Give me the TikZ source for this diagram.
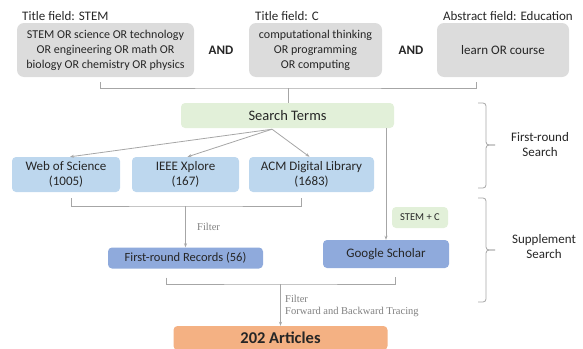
\documentclass[tikz,border=0pt]{standalone}
\usepackage{fontspec}
\setmainfont{Carlito}
\newfontfamily\serifgray{Liberation Serif}
\usetikzlibrary{arrows.meta,calc}
\definecolor{boxgray}{HTML}{DCDCDC}
\definecolor{boxgreen}{HTML}{E2F0D9}
\definecolor{boxlblue}{HTML}{BDD7EE}
\definecolor{boxblue}{HTML}{8FAADC}
\definecolor{boxorange}{HTML}{F4B183}
\definecolor{linegray}{HTML}{A6A6A6}
\definecolor{txt}{HTML}{262626}
\tikzset{
  gbox/.style={fill=boxgray, rounded corners=7pt, inner sep=0pt, align=center, text=txt, font=\fontsize{12}{15}\selectfont},
  cbox/.style={rounded corners=4pt, inner sep=0pt, align=center, text=txt},
  gl/.style={draw=linegray, line width=0.8pt},
  arr/.style={gl, -{Stealth[length=4pt,width=3pt]}},
  lbl/.style={text=txt, font=\fontsize{13}{15}\selectfont, inner sep=0pt},
  ftxt/.style={text=gray, font=\serifgray\fontsize{10.5}{12}\selectfont, inner sep=0pt, anchor=west},
}
\begin{document}
\begin{tikzpicture}[x=1pt,y=-1pt]
\useasboundingbox (0,0) rectangle (583,348);
\clip (0,0) rectangle (583,348);
% titles
\node[lbl, anchor=west] (t1) at (22,16) {Title field: STEM};
\node[lbl, anchor=west] (t2) at (255,16) {Title field: C};
\node[lbl, anchor=east] (t3) at (573,16) {Abstract field: Education};
% top boxes
\node[gbox, minimum width=177pt, minimum height=54pt] (box1) at (105.5,50)
  {STEM OR science OR technology\\OR engineering OR math OR\\biology OR chemistry OR physics};
\node[lbl, font=\bfseries\fontsize{13}{15}\selectfont] (and1) at (221,50) {AND};
\node[gbox, minimum width=133pt, minimum height=54pt] (box2) at (315.5,50)
  {computational thinking\\OR programming\\OR computing};
\node[lbl, font=\bfseries\fontsize{13}{15}\selectfont] (and2) at (411,50) {AND};
\node[gbox, minimum width=132pt, minimum height=54pt, font=\fontsize{13}{15}\selectfont] (box3) at (503,50)
  {learn OR course};
% search terms
\node[cbox, fill=boxgreen, minimum width=213pt, minimum height=25pt, font=\fontsize{14.5}{16}\selectfont] (search) at (287.5,115.5) {Search Terms};
% databases
\node[cbox, fill=boxlblue, minimum width=108pt, minimum height=35pt, font=\fontsize{13}{15}\selectfont] (wos) at (66,174.5) {Web of Science\\(1005)};
\node[cbox, fill=boxlblue, minimum width=107pt, minimum height=35pt, font=\fontsize{13}{15}\selectfont] (ieee) at (185.5,174.5) {IEEE Xplore\\(167)};
\node[cbox, fill=boxlblue, minimum width=125pt, minimum height=35pt, font=\fontsize{13}{15}\selectfont] (acm) at (311.5,174.5) {ACM Digital Library\\(1683)};
% records, google, stem+c
\node[cbox, fill=boxblue, minimum width=155pt, minimum height=21pt, font=\fontsize{12.5}{15}\selectfont] (rec) at (185.5,258) {First-round Records (56)};
\node[cbox, fill=boxblue, minimum width=126pt, minimum height=28pt, font=\fontsize{13}{15}\selectfont] (google) at (386,254) {Google Scholar};
\node[cbox, fill=boxgreen, minimum width=56pt, minimum height=21pt, font=\fontsize{10.5}{12}\selectfont] (stemc) at (420,217.5) {STEM + C};
% articles
\node[cbox, fill=boxorange, minimum width=214pt, minimum height=24pt, font=\bfseries\fontsize{16.5}{18}\selectfont] (art) at (280.5,338) {202 Articles};
% bracket 1
\coordinate (j1) at (288,88);
\draw[gl] ($(box1.south)+(-5.5,5)$) |- (j1) -| ($(box3.south)+(-27,5)$);
\draw[gl] (j1) -- (j1 |- search.north);
% search to dbs
\coordinate (s0) at ($(search.south)+(-15.5,1)$);
\draw[arr] (s0) -- ([xshift=4pt]wos.north);
\draw[arr] (s0) -- ([xshift=2pt]ieee.north);
\draw[arr] (s0) -- ([xshift=-2pt]acm.north);
\draw[arr] (search.south -| google.north) -- (google.north);
% bracket 2
\coordinate (j2) at (185.5,206);
\draw[gl] ($(wos.south)+(5,6)$) |- (j2) -| ($(acm.south)+(-10.5,6)$);
\draw[arr] (j2) -- (rec.north);
\node[ftxt] (f1) at (197,227) {Filter};
% bracket 3
\coordinate (j3) at (280.5,284);
\draw[gl] ($(rec.south)+(-19.5,9)$) |- (j3) -| ($(google.south)+(9.5,9)$);
\draw[arr] (j3) -- (art.north);
\node[ftxt] (f2) at (285,299) {Filter};
\node[ftxt] (f3) at (285,312) {Forward and Backward Tracing};
% braces
\draw[gl, rounded corners=3pt] (478,103) -- (486,103) -- (486,145) -- (495,145);
\draw[gl, rounded corners=3pt] (495,145) -- (486,145) -- (486,188) -- (478,188);
\node[lbl, align=center] (fr) at (540,145) {First-round\\Search};
\draw[gl, rounded corners=3pt] (478,198) -- (486,198) -- (486,250) -- (495,250);
\draw[gl, rounded corners=3pt] (495,250) -- (486,250) -- (486,302) -- (478,302);
\node[lbl, align=center] (ss) at (544,247) {Supplement\\Search};
\end{tikzpicture}
\end{document}
